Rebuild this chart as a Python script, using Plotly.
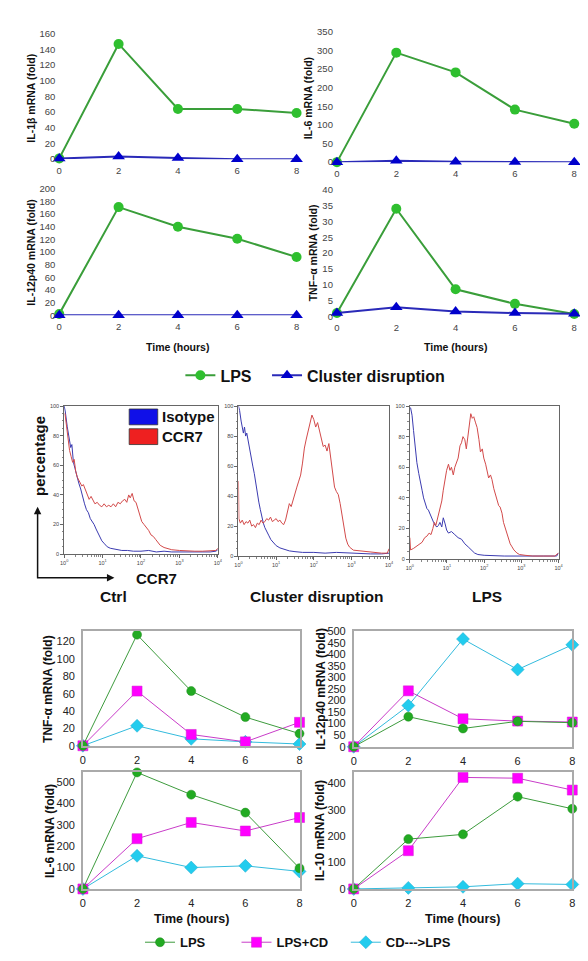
import numpy as np
import plotly.graph_objects as go

W, H = 588, 961

# ---------------- DATA ----------------
hours = [0, 2, 4, 6, 8]

# Top panels (LPS vs Cluster disruption)
il1b_lps = [1, 147, 64, 64, 59]
il1b_cd = [1, 3.5, 1.5, 0, 0]
il6_lps = [0, 294, 241, 141, 103]
il6_cd = [0, 4, 1, 0.5, 0]
il12_lps = [2, 171, 140, 121, 92]
il12_cd = [0, 0, 0, 0, 0]
tnf_lps = [1, 34, 8.5, 3.9, 0.7]
tnf_cd = [1, 2.8, 1.5, 1.0, 0.8]

# Flow cytometry histograms (x in decades of CCR7 fluorescence, y in %)
ctrl_iso_x = [0, 0.03, 0.08, 0.13, 0.17, 0.2, 0.24, 0.28, 0.33, 0.38, 0.43, 0.48, 0.53, 0.58, 0.63, 0.68,
              0.73, 0.78, 0.83, 0.88, 0.93, 0.98, 1.05, 1.12, 1.2, 1.3, 1.4, 1.5, 1.65, 1.8, 2.0, 2.2, 2.4,
              2.6, 2.8, 3.0, 3.2, 3.4, 3.6, 3.8, 3.95, 4.0]
ctrl_iso_y = [100, 96, 86, 78, 72, 74, 62, 58, 52, 48, 44, 38, 34, 30, 28, 24, 22, 20, 17, 14, 12, 9, 7, 5,
              4, 3.5, 3, 2.5, 2.5, 2, 2, 2.5, 1.5, 2, 1.5, 1.5, 1, 1.5, 1, 1.5, 2, 3]
ctrl_ccr7_x = [0.02, 0.06, 0.1, 0.14, 0.18, 0.22, 0.26, 0.3, 0.34, 0.38, 0.42, 0.46, 0.5, 0.55, 0.6, 0.65,
               0.7, 0.75, 0.8, 0.86, 0.92, 0.98, 1.04, 1.1, 1.16, 1.22, 1.28, 1.34, 1.4, 1.46, 1.52, 1.58,
               1.63, 1.68, 1.72, 1.77, 1.82, 1.87, 1.92, 1.97, 2.02, 2.08, 2.14, 2.2, 2.26, 2.32, 2.38, 2.44,
               2.5, 2.6, 2.7, 2.8, 3.0, 3.2, 3.4, 3.6, 3.8, 3.95, 4.0]
ctrl_ccr7_y = [95, 86, 78, 70, 66, 62, 64, 56, 52, 50, 47, 46, 47, 44, 40, 37, 39, 36, 34, 35, 33, 32, 34,
               32, 33, 32, 34, 32, 35, 34, 36, 37, 35, 40, 38, 41, 36, 35, 30, 26, 22, 20, 18, 16, 13, 12,
               10, 8, 6, 4.5, 3.5, 3, 2.5, 2, 2, 2, 2, 2.5, 4]
cd_iso_x = [0, 0.03, 0.07, 0.1, 0.13, 0.16, 0.19, 0.22, 0.26, 0.3, 0.34, 0.38, 0.42, 0.46, 0.5, 0.54, 0.58,
            0.62, 0.66, 0.7, 0.75, 0.8, 0.86, 0.92, 1.0, 1.1, 1.2, 1.35, 1.5, 1.7, 2.0, 2.3, 2.6, 2.9, 3.2,
            3.5, 3.8, 4.0]
cd_iso_y = [100, 97, 90, 85, 82, 86, 80, 82, 76, 72, 65, 60, 55, 48, 42, 36, 31, 26, 22, 19, 16, 14, 11, 9,
            7, 5.5, 4.5, 3.5, 3, 2.5, 2.5, 2, 2.5, 2, 2, 1.5, 1.5, 2]
cd_ccr7_x = [0, 0.01, 0.05, 0.1, 0.15, 0.2, 0.25, 0.3, 0.35, 0.4, 0.45, 0.5, 0.55, 0.6, 0.65, 0.7, 0.75,
             0.8, 0.85, 0.9, 0.95, 1.0, 1.05, 1.1, 1.15, 1.2, 1.25, 1.3, 1.35, 1.4, 1.45, 1.5, 1.55, 1.6,
             1.65, 1.7, 1.75, 1.8, 1.85, 1.9, 1.95, 2.0, 2.05, 2.1, 2.15, 2.2, 2.25, 2.3, 2.35, 2.4, 2.45,
             2.5, 2.55, 2.6, 2.65, 2.7, 2.75, 2.8, 2.85, 2.9, 2.95, 3.05, 3.2, 3.4, 3.6, 3.8, 3.95, 4.0]
cd_ccr7_y = [50, 25, 22, 24, 21, 23, 22, 24, 20, 21, 19, 22, 21, 24, 22, 23, 25, 24, 26, 23, 24, 25, 23,
             24, 22, 21, 24, 30, 35, 33, 38, 42, 46, 50, 54, 62, 72, 78, 84, 88, 94, 91, 86, 89, 84, 80,
             73, 74, 70, 75, 65, 55, 46, 43, 41, 35, 28, 19, 12, 8, 6, 4, 3.5, 3, 2.5, 2, 2, 5]
lps_iso_x = [0.02, 0.06, 0.1, 0.15, 0.19, 0.24, 0.28, 0.33, 0.37, 0.42, 0.46, 0.5, 0.55, 0.59, 0.64, 0.68,
             0.73, 0.77, 0.81, 0.86, 0.9, 0.95, 0.99, 1.04, 1.12, 1.21, 1.3, 1.39, 1.48, 1.57, 1.65, 1.74,
             1.83, 2.0, 2.54, 3.42, 3.95, 4.0]
lps_iso_y = [99, 94, 84, 72, 63, 56, 50, 45, 40, 36, 33, 32, 29, 26, 24, 22, 21, 22, 24, 21, 27, 23, 19, 17,
             18, 16, 14, 13, 10, 8, 6, 4, 3, 2.5, 2, 2, 2, 4]
lps_ccr7_x = [0, 0.02, 0.1, 0.15, 0.2, 0.26, 0.33, 0.4, 0.46, 0.52, 0.57, 0.62, 0.66, 0.7, 0.73, 0.77, 0.81,
              0.86, 0.9, 0.95, 0.99, 1.04, 1.08, 1.12, 1.17, 1.21, 1.26, 1.3, 1.35, 1.39, 1.43, 1.48, 1.52,
              1.57, 1.6, 1.64, 1.68, 1.72, 1.77, 1.81, 1.86, 1.9, 1.95, 1.99, 2.04, 2.08, 2.12, 2.17, 2.21,
              2.26, 2.3, 2.35, 2.39, 2.43, 2.48, 2.52, 2.57, 2.62, 2.66, 2.7, 2.75, 2.8, 2.88, 2.95, 3.1,
              3.3, 3.6, 3.9, 4.0]
lps_ccr7_y = [14, 6, 7, 8, 9, 10, 11, 14, 15, 17, 16, 20, 24, 22, 25, 28, 32, 38, 45, 52, 58, 62, 58, 60,
              55, 60, 64, 66, 74, 76, 80, 78, 72, 82, 90, 95, 92, 93, 89, 86, 78, 70, 72, 66, 62, 56, 53,
              55, 52, 46, 42, 38, 35, 34, 30, 24, 20, 16, 12, 10, 8, 6, 4, 3, 2.5, 2, 2, 2, 4]

# Bottom panels (LPS, LPS+CD, CD--->LPS)
b_tnf = {"LPS": [0, 128, 63, 33, 14], "LPS+CD": [0, 63, 13, 4.5, 27], "CD--->LPS": [0, 23, 8, 4.5, 2]}
b_il12 = {"LPS": [0, 130, 79, 110, 104], "LPS+CD": [0, 242, 121, 111, 107], "CD--->LPS": [0, 178, 466, 334, 441]}
b_il6 = {"LPS": [0, 545, 441, 357, 97], "LPS+CD": [0, 235, 311, 271, 334], "CD--->LPS": [0, 155, 100, 108, 82]}
b_il10 = {"LPS": [0, 189, 207, 350, 304], "LPS+CD": [0, 145, 423, 420, 375], "CD--->LPS": [0, 4, 8, 20, 17]}

decade_ticks = [0, 1, 2, 3, 4]
decade_labels = ["10<sup>0</sup>", "10<sup>1</sup>", "10<sup>2</sup>", "10<sup>3</sup>", "10<sup>4</sup>"]

# ---------------- helpers ----------------
FONT = "Liberation Sans, Arial, Helvetica, sans-serif"


def xd(a, b):
    return [a / W, b / W]


def yd(top, bot):
    return [1 - bot / H, 1 - top / H]


def px(x):
    return x / W


def py(y):
    return 1 - y / H


fig = go.Figure()
layout = {}
annotations = []
shapes = []


def axname(i, kind):
    return f"{kind}axis" if i == 1 else f"{kind}axis{i}"


def ref(i, kind):
    return kind if i == 1 else f"{kind}{i}"


def label(text, x, y, size, angle=0, xanchor="center", bold=True, color="#111"):
    annotations.append(dict(text=text, x=px(x), y=py(y), xref="paper", yref="paper", showarrow=False,
                            textangle=angle, xanchor=xanchor, yanchor="middle",
                            font=dict(size=size, family=FONT, color=color,
                                      weight="bold" if bold else "normal")))


def legend_box(x, y, size):
    return dict(orientation="h", x=px(x), y=py(y), xanchor="left", yanchor="middle",
                font=dict(size=size, family=FONT, color="#111", weight="bold"),
                bgcolor="rgba(0,0,0,0)")


# ---------- Top panels ----------
top_specs = [
    (1, xd(48, 289), yd(20, 147), [0, 160], list(range(0, 161, 20)), il1b_lps, il1b_cd),
    (2, xd(330, 571), yd(18, 150), [0, 350], list(range(0, 351, 50)), il6_lps, il6_cd),
    (3, xd(48, 289), yd(177, 305), [0, 200], list(range(0, 201, 20)), il12_lps, il12_cd),
    (4, xd(330, 571), yd(178, 306), [0, 40], list(range(0, 41, 5)), tnf_lps, tnf_cd),
]
for i, xdom, ydom, yr, yt, lps, cd in top_specs:
    layout[axname(i, "x")] = dict(domain=xdom, range=[0, 8], tickvals=hours, showgrid=False, zeroline=False,
                                  showline=False, ticks="", ticklabelstandoff=4,
                                  tickfont=dict(size=9.5, color="#444", family=FONT), anchor=ref(i, "y"))
    layout[axname(i, "y")] = dict(domain=ydom, range=yr, tickvals=yt, showgrid=False, zeroline=False,
                                  showline=False, ticks="", ticklabelstandoff=3,
                                  tickfont=dict(size=9.5, color="#444", family=FONT), anchor=ref(i, "x"))
    fig.add_trace(go.Scatter(x=hours, y=lps, mode="lines+markers", name="LPS", legend="legend",
                             showlegend=(i == 1), cliponaxis=False,
                             line=dict(color="#3a9e3a", width=2),
                             marker=dict(symbol="circle", size=10, color="#2fbf2f"),
                             xaxis=ref(i, "x"), yaxis=ref(i, "y")))
    fig.add_trace(go.Scatter(x=hours, y=cd, mode="lines+markers", name="Cluster disruption", legend="legend3",
                             showlegend=(i == 1), cliponaxis=False,
                             line=dict(color="#2a2ab8", width=2),
                             marker=dict(symbol="triangle-up", size=11, color="#0000cc"),
                             xaxis=ref(i, "x"), yaxis=ref(i, "y")))

for t, x, y in [("IL-1β mRNA (fold)", 19, 85), ("IL-6 mRNA (fold)", 301, 85),
                ("IL-12p40 mRNA (fold)", 19, 242), ("TNF−α mRNA (fold)", 306, 242)]:
    label(t, x, y, 10.5, angle=-90)
for x in (168, 450):
    label("Time (hours)", x, 337, 10.5)

# ---------- Flow panels ----------
minor_vals = [d + np.log10(k) for d in range(4) for k in range(2, 10)]
flow_specs = [
    (5, xd(53, 209), yd(397, 547), ctrl_iso_x, ctrl_iso_y, ctrl_ccr7_x, ctrl_ccr7_y),
    (6, xd(230, 383), yd(397, 549), cd_iso_x, cd_iso_y, cd_ccr7_x, cd_ccr7_y),
    (7, xd(404, 555), yd(397, 552), lps_iso_x, lps_iso_y, lps_ccr7_x, lps_ccr7_y),
]
for i, xdom, ydom, ix, iy, cx, cy in flow_specs:
    layout[axname(i, "x")] = dict(domain=xdom, range=[0, 4], tickvals=decade_ticks, ticktext=decade_labels,
                                  showgrid=False, zeroline=False, showline=True, mirror=True,
                                  linecolor="#666", linewidth=1, ticks="outside", ticklen=3,
                                  tickcolor="#666", tickwidth=0.8,
                                  minor=dict(tickvals=minor_vals, ticks="outside", ticklen=1.5,
                                             tickcolor="#888"),
                                  tickfont=dict(size=5.5, color="#444", family=FONT), anchor=ref(i, "y"))
    layout[axname(i, "y")] = dict(domain=ydom, range=[0, 100], tickvals=list(range(0, 101, 20)),
                                  showgrid=False, zeroline=False, showline=True, mirror=True,
                                  linecolor="#666", linewidth=1, ticks="outside", ticklen=3,
                                  tickcolor="#666", tickwidth=0.8,
                                  minor=dict(dtick=5, ticks="outside", ticklen=1.5, tickcolor="#888"),
                                  tickfont=dict(size=5.5, color="#444", family=FONT), anchor=ref(i, "x"))
    fig.add_trace(go.Scatter(x=ix, y=iy, mode="lines", showlegend=False, name="Isotype",
                             line=dict(color="#3b3bb0", width=1),
                             xaxis=ref(i, "x"), yaxis=ref(i, "y")))
    fig.add_trace(go.Scatter(x=cx, y=cy, mode="lines", showlegend=False, name="CCR7",
                             line=dict(color="#d24a4a", width=1),
                             xaxis=ref(i, "x"), yaxis=ref(i, "y")))

# flow legend boxes
shapes.append(dict(type="rect", xref="paper", yref="paper", x0=px(119), x1=px(148), y0=py(416), y1=py(400),
                   fillcolor="#1010e8", line=dict(color="#333", width=0.8)))
shapes.append(dict(type="rect", xref="paper", yref="paper", x0=px(119), x1=px(148), y0=py(436), y1=py(420),
                   fillcolor="#ee2020", line=dict(color="#333", width=0.8)))
label("Isotype", 150, 408, 15, xanchor="left")
label("CCR7", 150, 428, 15, xanchor="left")
label("percentage", 28, 448, 15, angle=-90)
label("CCR7", 147, 572, 15)
for t, x in (("Ctrl", 103), ("Cluster disruption", 309), ("LPS", 482)):
    label(t, x, 590, 15.5)
# axis arrows
annotations.append(dict(text="", x=px(26), y=py(499), xref="paper", yref="paper", showarrow=True,
                        ax=0, ay=72, arrowhead=2, arrowsize=1, arrowwidth=1.5, arrowcolor="#111"))
annotations.append(dict(text="", x=px(104), y=py(571), xref="paper", yref="paper", showarrow=True,
                        ax=-79, ay=0, arrowhead=2, arrowsize=1, arrowwidth=1.5, arrowcolor="#111"))

# ---------- Bottom panels ----------
series_style = {
    "LPS": dict(legend="legend2",
                line=dict(color="#3d9b3d", width=1),
                marker=dict(symbol="circle", size=9, color="#22aa22", line=dict(color="#1e8a1e", width=0.5))),
    "LPS+CD": dict(legend="legend4",
                   line=dict(color="#c83cc8", width=1),
                   marker=dict(symbol="square", size=10, color="#ff00ff", line=dict(color="#cc22cc", width=0.5))),
    "CD--->LPS": dict(legend="legend5",
                      line=dict(color="#33bbdd", width=1),
                      marker=dict(symbol="diamond", size=10, color="#22ccee", line=dict(color="#22aacc", width=0.5))),
}
bottom_specs = [
    (8, xd(72, 292), yd(625, 741), [0, 132], list(range(0, 121, 20)), b_tnf),
    (9, xd(347, 569), yd(625, 742), [0, 500], list(range(0, 501, 50)), b_il12),
    (10, xd(72, 292), yd(768, 886), [0, 545], list(range(0, 501, 100)), b_il6),
    (11, xd(347, 569), yd(768, 886), [0, 442], list(range(0, 401, 100)), b_il10),
]
for i, xdom, ydom, yr, yt, data in bottom_specs:
    layout[axname(i, "x")] = dict(domain=xdom, range=[0, 8], tickvals=hours, showgrid=False, zeroline=False,
                                  showline=True, mirror=True, linecolor="#aaaaaa", linewidth=1.5,
                                  ticks="", ticklabelstandoff=3,
                                  tickfont=dict(size=11, color="#222", family=FONT), anchor=ref(i, "y"))
    layout[axname(i, "y")] = dict(domain=ydom, range=yr, tickvals=yt, showgrid=False, zeroline=False,
                                  showline=True, mirror=True, linecolor="#aaaaaa", linewidth=1.5,
                                  ticks="", ticklabelstandoff=4,
                                  tickfont=dict(size=11, color="#222", family=FONT), anchor=ref(i, "x"))
    for name in ["CD--->LPS", "LPS+CD", "LPS"]:
        st = series_style[name]
        fig.add_trace(go.Scatter(x=hours, y=data[name], mode="lines+markers", name=name, legend=st["legend"],
                                 showlegend=(i == 8), cliponaxis=False, line=st["line"], marker=st["marker"],
                                 xaxis=ref(i, "x"), yaxis=ref(i, "y")))

for t, x, y in [("TNF-α mRNA (fold)", 37, 683), ("IL-12p40 mRNA (fold)", 314, 683),
                ("IL-6 mRNA (fold)", 38, 827), ("IL-10 mRNA (fold)", 312, 827)]:
    label(t, x, y, 12, angle=-90)
for x in (182, 458):
    label("Time (hours)", x, 916, 12.5)

fig.update_layout(
    width=W, height=H,
    margin=dict(l=0, r=0, t=0, b=0),
    paper_bgcolor="white", plot_bgcolor="white",
    font=dict(family=FONT),
    annotations=annotations, shapes=shapes,
    legend=legend_box(171, 366, 16),
    legend3=legend_box(259, 366, 16),
    legend2=legend_box(130, 940, 13),
    legend4=legend_box(228, 940, 13),
    legend5=legend_box(339, 940, 13),
    **layout,
)

fig.write_html("out.html")
